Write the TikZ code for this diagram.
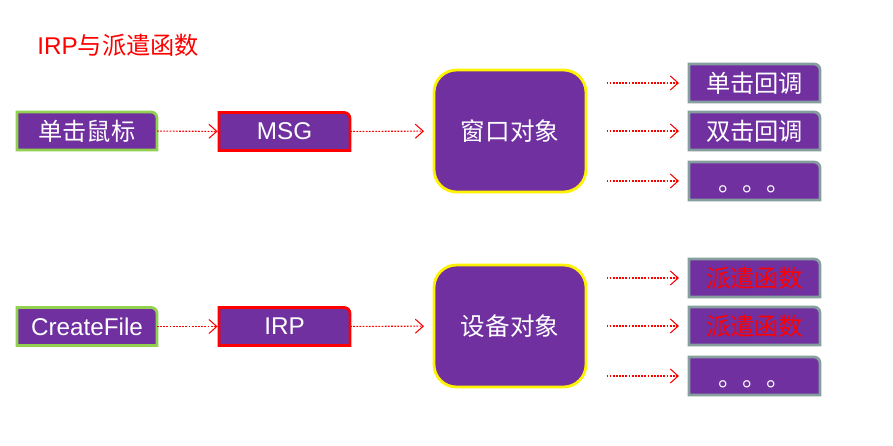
\documentclass[tikz,border=0pt]{standalone}
\usepackage{fontspec}
\setmainfont{Liberation Sans}
\newfontfamily\cjk{Noto Sans CJK SC}
\usetikzlibrary{arrows.meta,backgrounds,calc}
\definecolor{boxpurple}{HTML}{7030A0}
\definecolor{greenline}{HTML}{92D050}
\definecolor{grayline}{HTML}{879E9E}
% frame with one round corner, put behind the node
\newcommand{\tabframe}[2]{%
\begin{pgfonlayer}{background}
\filldraw[fill=boxpurple, draw=#2, line width=1.6pt] (#1.south west) -- (#1.north west) -- ($(#1.north east)+(-0.12,0)$) arc[start angle=90, end angle=0, radius=0.12] -- (#1.south east) -- cycle;
\end{pgfonlayer}}

\begin{document}
\begin{tikzpicture}[
  tab/.style={minimum width=2.62cm, minimum height=0.76cm, inner sep=0pt, outer sep=0pt, text=white, font=\fontsize{13.8}{16}\selectfont},
  cjktab/.style={tab, font=\cjk\fontsize{13.8}{16}\selectfont},
  obj/.style={draw=yellow, fill=boxpurple, line width=1.6pt, rounded corners=0.45cm, minimum width=3.04cm, minimum height=2.44cm, outer sep=0pt, text=white, font=\cjk\fontsize{14}{16}\selectfont},
  link/.style={red, line width=0.6pt, dash pattern=on 1pt off 0.8pt, -{Straight Barb[length=4.5pt,width=8pt]}}
]
\useasboundingbox (0,0) rectangle (17.86,8.92);
\begin{pgfonlayer}{background}
\fill[white] (0,0) rectangle (17.86,8.92);
\end{pgfonlayer}

\node[anchor=west, inner sep=0pt, text=red, font=\fontsize{13.8}{16}\selectfont] (title) at (0.74,8.02) {IRP{\cjk 与派遣函数}};

% first row
\node[cjktab, minimum width=2.8cm] (click) at (1.74,6.30) {单击鼠标};
\node[tab] (msg) at (5.69,6.29) {MSG};
\node[obj] (winobj) at (10.2,6.30) {窗口对象};
\node[cjktab] (cbone) at (15.09,7.26) {单击回调};
\node[cjktab] (cbtwo) at (15.09,6.30) {双击回调};
\node[cjktab] (cbmore) at (15.09,5.30) {\raisebox{-0.22cm}[0pt][0pt]{。。。}};
\tabframe{click}{greenline}
\tabframe{msg}{red}
\tabframe{cbone}{grayline}
\tabframe{cbtwo}{grayline}
\tabframe{cbmore}{grayline}

% second row
\node[tab, minimum width=2.8cm] (create) at (1.74,2.39) {CreateFile};
\node[tab] (irp) at (5.69,2.39) {IRP};
\node[obj] (devobj) at (10.2,2.40) {设备对象};
\node[cjktab, text=red] (dispone) at (15.09,3.36) {派遣函数};
\node[cjktab, text=red] (disptwo) at (15.09,2.40) {派遣函数};
\node[cjktab] (dispmore) at (15.09,1.40) {\raisebox{-0.22cm}[0pt][0pt]{。。。}};
\tabframe{create}{greenline}
\tabframe{irp}{red}
\tabframe{dispone}{grayline}
\tabframe{disptwo}{grayline}
\tabframe{dispmore}{grayline}

\draw[link, shorten >=0.8pt] (click) -- (msg);
\draw[link, shorten >=0.2cm] (msg) -- (winobj);
\draw[link, shorten <=0.41cm, shorten >=0.2cm] (winobj.east |- cbone) -- (cbone);
\draw[link, shorten <=0.41cm, shorten >=0.2cm] (winobj.east |- cbtwo) -- (cbtwo);
\draw[link, shorten <=0.41cm, shorten >=0.2cm] (winobj.east |- cbmore) -- (cbmore);

\draw[link, shorten >=0.8pt] (create) -- (irp);
\draw[link, shorten >=0.2cm] (irp) -- (devobj);
\draw[link, shorten <=0.41cm, shorten >=0.2cm] (devobj.east |- dispone) -- (dispone);
\draw[link, shorten <=0.41cm, shorten >=0.2cm] (devobj.east |- disptwo) -- (disptwo);
\draw[link, shorten <=0.41cm, shorten >=0.2cm] (devobj.east |- dispmore) -- (dispmore);
\end{tikzpicture}
\end{document}
